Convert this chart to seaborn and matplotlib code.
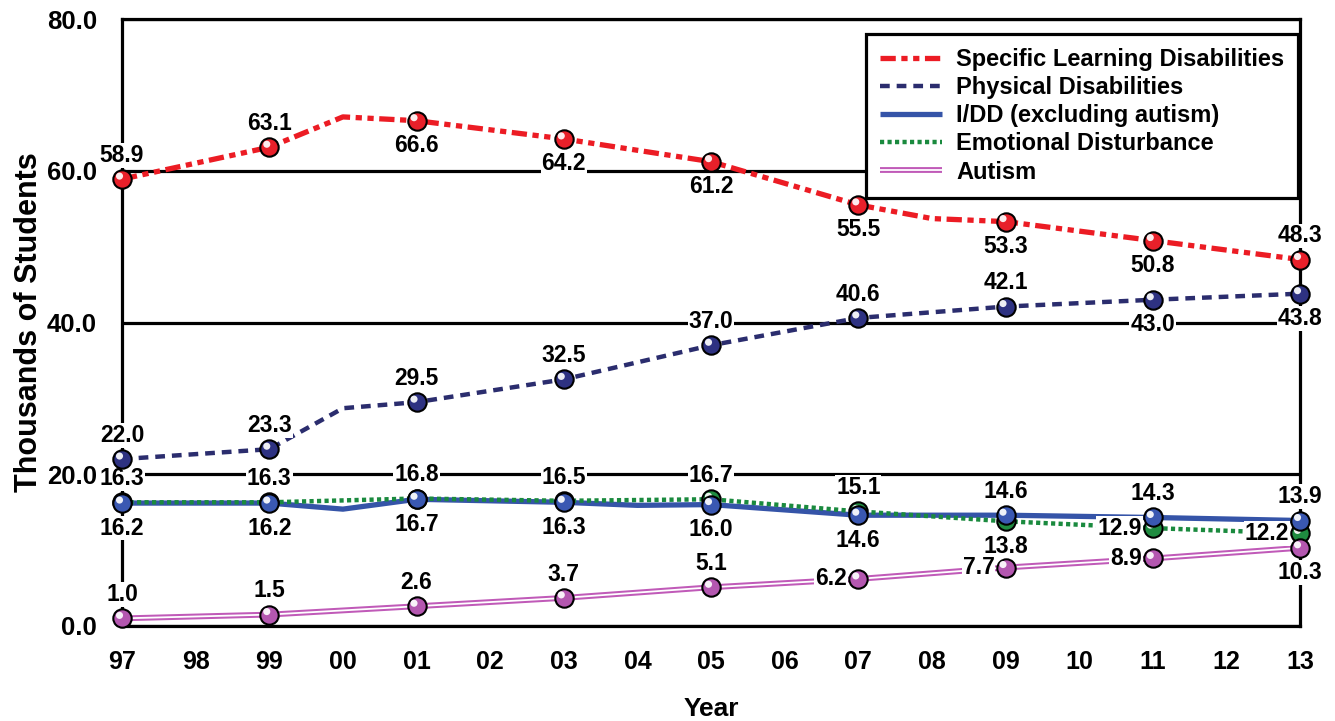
import matplotlib
matplotlib.use("Agg")
import matplotlib.pyplot as plt
import matplotlib.patheffects as pe
from matplotlib.transforms import offset_copy
import seaborn as sns
import pandas as pd

# ---------------- data ----------------
all_years = list(range(1997, 2014))
tick_labels = ["97", "98", "99", "00", "01", "02", "03", "04", "05", "06",
               "07", "08", "09", "10", "11", "12", "13"]
marked_years = [1997, 1999, 2001, 2003, 2005, 2007, 2009, 2011, 2013]

series_names = ["Specific Learning Disabilities", "Physical Disabilities",
                "I/DD (excluding autism)", "Emotional Disturbance", "Autism"]

sld_vals = [58.9, 63.1, 66.6, 64.2, 61.2, 55.5, 53.3, 50.8, 48.3]
phys_vals = [22.0, 23.3, 29.5, 32.5, 37.0, 40.6, 42.1, 43.0, 43.8]
idd_vals = [16.2, 16.2, 16.7, 16.3, 16.0, 14.6, 14.6, 14.3, 13.9]
ed_vals = [16.3, 16.3, 16.8, 16.5, 16.7, 15.1, 13.8, 12.9, 12.2]
aut_vals = [1.0, 1.5, 2.6, 3.7, 5.1, 6.2, 7.7, 8.9, 10.3]

# unlabeled line vertices in even years
sld_extra_years, sld_extra_vals = [2000, 2008], [67.1, 53.7]
phys_extra_years, phys_extra_vals = [2000], [28.7]
idd_extra_years, idd_extra_vals = [2000, 2004], [15.4, 15.9]
ed_extra_years, ed_extra_vals = [], []
aut_extra_years, aut_extra_vals = [], []

y_ticks = [0, 20, 40, 60, 80]

# ---------------- style ----------------
sns.set_style("white")
plt.rcParams["font.family"] = ["Liberation Sans", "DejaVu Sans"]
plt.rcParams["font.weight"] = "bold"
plt.rcParams["text.color"] = "black"
plt.rcParams["axes.labelcolor"] = "black"
plt.rcParams["xtick.color"] = "black"
plt.rcParams["ytick.color"] = "black"
plt.rcParams["lines.scale_dashes"] = False

colors = ["#ec1c24", "#2b2d6e", "#3554a8", "#1a8a3e", "#c05ab8"]
marker_colors = ["#e8202a", "#2e3282", "#3a58b2", "#1f8c40", "#b457b0"]
lws = [3.8, 3.2, 3.8, 3.2, 1.3]
dash_styles = [(0, (11, 4, 4.5, 4, 4.5, 4)), (0, (7, 5)), "-", (0, (3, 2.4)), "-"]
# label placement for each marked point: a=above, b=below, l=left
placements = [
    ["a", "a", "b", "b", "b", "b", "b", "b", "a"],
    ["a", "a", "a", "a", "a", "a", "a", "b", "b"],
    ["b", "b", "b", "b", "b", "b", "a", "a", "a"],
    ["a", "a", "a", "a", "a", "a", "b", "l", "l"],
    ["a", "a", "a", "a", "a", "l", "l", "l", "b"],
]
# drawing order (ED beneath I/DD)
draw_order = [0, 1, 3, 2, 4]
legend_order = [0, 1, 2, 3, 4]

marked = [sld_vals, phys_vals, idd_vals, ed_vals, aut_vals]
extras = [(sld_extra_years, sld_extra_vals), (phys_extra_years, phys_extra_vals),
          (idd_extra_years, idd_extra_vals), (ed_extra_years, ed_extra_vals),
          (aut_extra_years, aut_extra_vals)]

fig = plt.figure(figsize=(13.35, 7.21), dpi=100)
ax = fig.add_axes([0.0914, 0.1318, 0.8824, 0.8418])

handles = {}
for i in draw_order:
    name = series_names[i]
    ex_y, ex_v = extras[i]
    df = pd.DataFrame({"year": marked_years + ex_y, "value": marked[i] + ex_v})
    df = df.sort_values("year")
    kw = dict(color=colors[i], lw=lws[i], label=name, zorder=3 + 0.1 * i,
              solid_capstyle="butt", dash_capstyle="butt")
    if name == "Autism":
        kw["color"] = "white"
        kw["path_effects"] = [pe.Stroke(linewidth=4.2, foreground=colors[i]), pe.Normal()]
    sns.lineplot(data=df, x="year", y="value", ax=ax, sort=True, **kw)
    line = ax.lines[-1]
    line.set_linestyle(dash_styles[i])
    line.set_clip_on(False)
    handles[i] = line

# markers (spheres)
hl_tr = offset_copy(ax.transData, fig=fig, x=-2.5, y=3, units="dots")
for k, i in enumerate(draw_order):
    mdf = pd.DataFrame({"year": marked_years, "value": marked[i]})
    sns.scatterplot(data=mdf, x="year", y="value", ax=ax, s=175,
                    color=marker_colors[i], edgecolor="black", linewidth=1.5,
                    zorder=6 + 0.1 * k, clip_on=False, legend=False)
    sns.scatterplot(data=mdf, x="year", y="value", ax=ax, s=26,
                    color="white", edgecolor="none", linewidth=0, alpha=0.92,
                    zorder=6.05 + 0.1 * k, clip_on=False, legend=False, transform=hl_tr)

# value labels
for i, name in enumerate(series_names):
    for yr, v, p in zip(marked_years, marked[i], placements[i]):
        if p == "a":
            off, ha = (0, 17), "center"
        elif p == "b":
            off, ha = (0, -18), "center"
        else:
            off, ha = (-8, 0), "right"
        ax.annotate(f"{v:.1f}", (yr, v), xytext=off, textcoords="offset points",
                    ha=ha, va="center", fontsize=16.5, fontweight="bold",
                    color="black", zorder=5, annotation_clip=False,
                    bbox=dict(boxstyle="square,pad=0.04", fc="white", ec="none"))

# axes
ax.set_xlim(1997, 2013)
ax.set_ylim(0, 80)
ax.set_xticks(all_years)
ax.set_xticklabels(tick_labels)
ax.set_yticks(y_ticks)
ax.set_yticklabels([f"{t:.1f}" for t in y_ticks])
ax.yaxis.grid(True, color="black", lw=2.3, zorder=1)
ax.xaxis.grid(False)
ax.set_axisbelow(True)
for sp in ax.spines.values():
    sp.set_visible(True)
    sp.set_color("black")
    sp.set_linewidth(2.3)
    sp.set_zorder(2)
ax.tick_params(axis="x", direction="in", length=14, width=2.3, color="black",
               pad=17, labelsize=18, labelcolor="black")
ax.tick_params(axis="y", length=0, pad=18, labelsize=18.5, labelcolor="black")
for lab in ax.get_xticklabels() + ax.get_yticklabels():
    lab.set_fontweight("bold")
ax.set_xlabel("Year", fontsize=19, fontweight="bold", labelpad=17)
ax.set_ylabel("Thousands of Students", fontsize=22, fontweight="bold", labelpad=2)

leg = ax.legend([handles[i] for i in legend_order],
                [series_names[i] for i in legend_order],
                loc="upper right", bbox_to_anchor=(0.9985, 0.976), fontsize=17,
                handlelength=2.6, handletextpad=0.6, labelspacing=0.22,
                borderpad=0.6, borderaxespad=0, frameon=True, fancybox=False,
                framealpha=1, edgecolor="black")
leg.get_frame().set_linewidth(2.3)
leg.set_zorder(10)
for t in leg.get_texts():
    t.set_fontweight("bold")
    t.set_color("black")

fig.savefig("out.png", dpi=100)
